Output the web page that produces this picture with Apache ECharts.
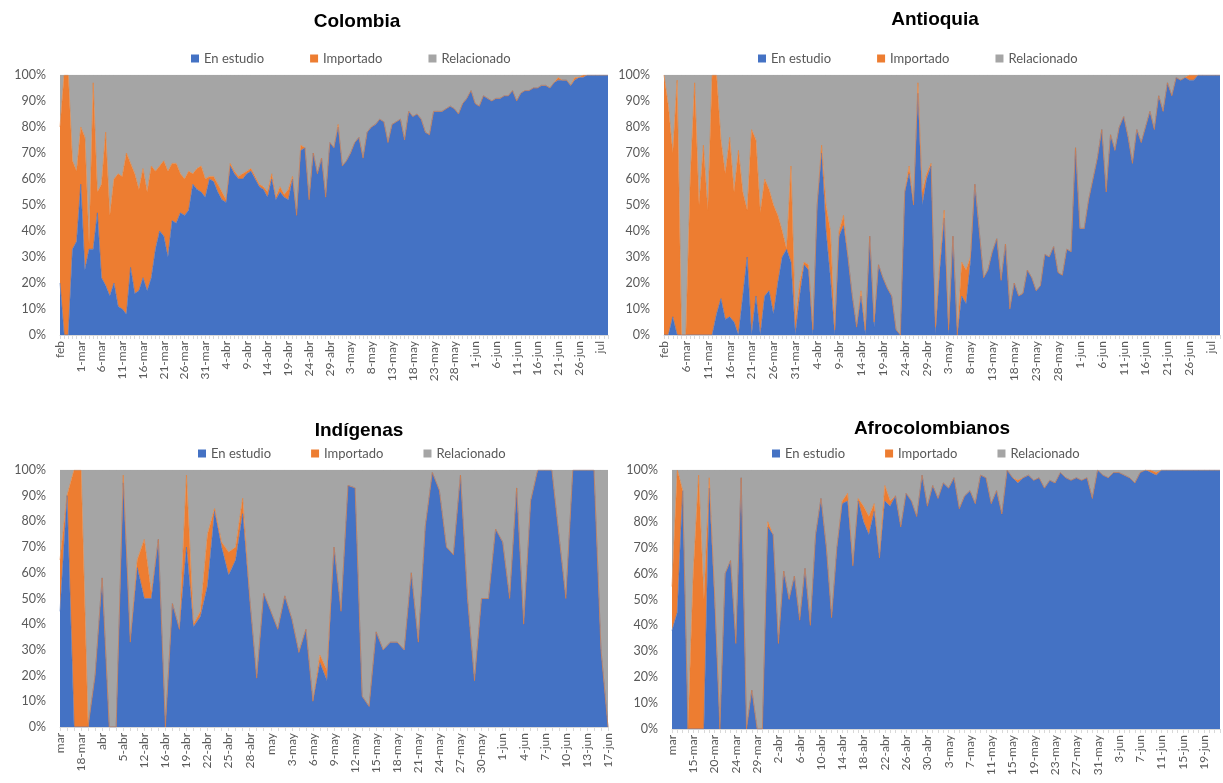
<!DOCTYPE html>
<html>
<head>
<meta charset="utf-8">
<script src="https://cdn.jsdelivr.net/npm/echarts@6/dist/echarts.min.js"></script>
<style>html,body{margin:0;padding:0;background:#fff}#c{width:1223px;height:783px}</style>
</head>
<body>
<div id="c"></div>
<script>
const seriesNames = ['En estudio', 'Importado', 'Relacionado'];
const panelTitles = ['Colombia', 'Antioquia', 'Indígenas', 'Afrocolombianos'];

// ---- Colombia ----
const colTicks = ['feb','1-mar','6-mar','11-mar','16-mar','21-mar','26-mar','31-mar','4-abr','9-abr','14-abr','19-abr','24-abr','29-abr','3-may','8-may','13-may','18-may','23-may','28-may','1-jun','6-jun','11-jun','16-jun','21-jun','26-jun','jul'];
const colEnEstudio = [20,0,0,33,36,58,25,33,33,47,
 22,19,15,20,11,10,8,26,16,17,
 22,17,22,33,40,38,30,44,43,47,
 46,48,58,56,55,53,60,59,55,52,
 51,65,62,60,60,62,63,60,57,56,
 53,60,52,55,53,52,60,46,71,72,
 52,70,62,68,53,74,72,80,65,67,
 70,74,76,68,78,80,81,83,82,74,
 81,82,83,75,86,84,85,83,78,77,
 86,86,86,87,88,87,85,89,91,94,
 89,88,92,91,90,91,91,92,92,94,
 90,93,94,94,95,95,96,96,95,97,
 98,98,98,96,98,99,99,100,100,100,
 100,100,100];
const colImportado = [60,100,100,34,27,22,51,2,64,8,
 36,59,31,40,51,51,62,40,46,39,
 42,38,43,30,25,29,33,22,23,15,
 14,15,4,8,10,7,1,2,3,3,
 1,1,1,1,2,1,1,1,1,1,
 2,2,1,2,1,4,1,0,2,0,
 0,0,0,0,0,0,0,1,0,0,
 0,0,0,0,0,0,0,0,0,0,
 0,0,0,0,0,0,0,0,0,0,
 0,0,0,0,0,0,0,0,0,0,
 0,0,0,0,0,0,0,0,0,0,
 0,0,0,0,0,0,0,0,0,0,
 1,0,0,0,1,0,1,0,0,0,
 0,0,0];

// ---- Antioquia ----
const antTicks = ['feb','6-mar','11-mar','16-mar','21-mar','26-mar','31-mar','4-abr','9-abr','14-abr','19-abr','24-abr','29-abr','3-may','8-may','13-may','18-may','23-may','28-may','1-jun','6-jun','11-jun','16-jun','21-jun','26-jun','jul'];
const antEnEstudio = [0,0,7,0,0,0,0,0,0,0,0,0,8,
 14,6,7,5,0,15,30,0,15,0,15,17,8,20,30,33,28,0,15,27,25,0,50,70,40,22,
 0,38,42,30,15,3,15,0,38,3,27,22,18,15,2,0,55,62,50,93,50,60,65,0,25,
 45,0,38,0,15,12,28,58,40,22,25,32,37,21,35,10,20,15,16,25,22,17,19,31,30,
 34,24,23,33,32,72,41,41,52,60,68,79,55,77,71,80,84,76,66,79,74,80,86,79,92,86,
 97,92,99,98,99,98,98,100,100,100,100,100,100];
const antImportado = [100,88,63,98,0,0,60,97,50,73,48,100,92,
 61,56,69,50,71,40,18,79,60,47,45,39,42,26,10,0,37,5,5,1,2,2,0,3,10,18,
 2,2,4,0,0,0,2,2,0,2,0,0,0,0,0,0,0,3,0,4,5,2,1,3,3,
 3,2,0,0,13,13,2,0,0,0,0,0,0,0,0,0,0,0,0,0,0,0,0,0,0,
 0,0,0,0,0,0,0,0,0,0,0,0,0,0,0,0,0,0,0,0,0,0,0,0,0,0,
 0,0,0,0,0,2,2,0,0,0,0,0,0];

// ---- Indígenas ----
const indTicks = ['mar','18-mar','abr','5-abr','12-abr','16-abr','19-abr','22-abr','25-abr','28-abr','may','3-may','6-may','9-may','12-may','15-may','18-may','21-may','24-may','27-may','30-may','1-jun','4-jun','7-jun','10-jun','13-jun','17-jun'];
const indEnEstudio = [45,90,0,0,0,20,58,0,0,95,
 33,62,50,50,73,0,48,38,70,39,
 43,55,84,70,59,65,83,50,19,52,
 45,38,51,42,29,38,10,25,18,70,
 45,94,93,12,8,37,30,33,33,30,
 60,33,78,99,92,70,67,98,50,18,
 50,50,77,72,50,93,40,88,100,100,
 100,75,50,100,100,100,100,30,0];
const indImportado = [20,0,100,100,0,0,0,0,0,3,
 0,3,23,2,0,0,0,0,28,1,
 2,20,1,2,9,5,6,0,0,0,
 0,0,0,0,0,0,0,3,4,0,
 0,0,0,0,0,0,0,0,0,0,
 0,0,0,0,0,0,0,0,0,0,
 0,0,0,0,0,0,0,0,0,0,
 0,0,0,0,0,0,0,0,0];

// ---- Afrocolombianos ----
const afroTicks = ['mar','15-mar','20-mar','24-mar','29-mar','2-abr','6-abr','10-abr','14-abr','18-abr','22-abr','26-abr','30-abr','3-may','7-may','11-may','15-may','19-may','23-may','27-may','31-may','3-jun','7-jun','11-jun','15-jun','19-jun'];
const afroEnEstudio = [38,45,92,0,0,0,0,93,50,0,
 60,65,33,97,0,15,0,0,78,75,
 33,61,50,59,42,62,40,75,89,70,
 43,70,87,88,63,88,80,75,84,66,
 88,86,90,78,91,88,82,98,86,94,
 89,95,93,97,85,90,92,87,98,97,
 87,92,83,100,97,95,97,98,96,97,
 93,96,95,99,97,96,97,96,97,89,
 100,98,97,99,99,98,97,95,99,100,
 99,98,100,100,100,100,100,100,100,100,
 100,100,100,100];
const afroImportado = [17,55,0,0,60,98,50,4,2,0,
 0,0,0,0,0,0,0,0,2,0,
 0,0,0,0,0,0,0,0,0,0,
 0,0,1,3,0,1,6,7,3,0,
 6,2,0,0,0,0,0,0,0,0,
 0,0,0,0,0,0,0,0,0,0,
 0,0,0,0,0,1,0,0,0,0,
 0,0,0,0,0,0,0,0,0,0,
 0,0,0,0,0,0,0,0,0,0,
 1,1,0,0,0,0,0,0,0,0,
 0,0,0,0];

const panels = [
  {title: panelTitles[0], ticks: colTicks, step: 5, b: colEnEstudio, o: colImportado},
  {title: panelTitles[1], ticks: antTicks, step: 5, b: antEnEstudio, o: antImportado},
  {title: panelTitles[2], ticks: indTicks, step: 3, b: indEnEstudio, o: indImportado},
  {title: panelTitles[3], ticks: afroTicks, step: 4, b: afroEnEstudio, o: afroImportado}
];

// layout
const grids = [
  {left: 60, top: 75, width: 548, height: 260},
  {left: 664, top: 75, width: 556, height: 260},
  {left: 60, top: 470, width: 548, height: 257},
  {left: 672, top: 470, width: 548, height: 259}
];
const titlePos = [[352, 7], [930, 5], [354, 416], [927, 414]];
const legendPos = [[186, 47], [753, 47], [193, 442], [767, 442]];
const colors = ['#4472C4', '#ED7D31', '#A5A5A5'];
const txt = '#595959';
const font = 'Lato, "Noto Sans", sans-serif';

const option = {
  animation: false,
  backgroundColor: '#fff',
  color: colors,
  title: panels.map((p, k) => ({
    text: p.title, left: titlePos[k][0], top: titlePos[k][1], textAlign: 'center',
    textStyle: {fontSize: 19, fontWeight: 'bold', color: '#000', fontFamily: '"Liberation Sans", Arial, sans-serif'}
  })),
  legend: panels.map((p, k) => ({
    data: seriesNames, left: legendPos[k][0], top: legendPos[k][1],
    icon: 'rect', itemWidth: 8, itemHeight: 8, itemGap: k < 2 ? 46 : 40,
    textStyle: {color: txt, fontSize: 13, fontFamily: font}
  })),
  grid: grids.map(g => Object.assign({containLabel: false}, g)),
  xAxis: panels.map((p, k) => {
    const cats = [];
    for (let i = 0; i < p.b.length; i++) {
      cats.push(i % p.step === 0 && p.ticks[i / p.step] !== undefined ? p.ticks[i / p.step] : '\u200b' + i);
    }
    return {
      type: 'category', gridIndex: k, data: cats, boundaryGap: false,
      axisLine: {show: true, lineStyle: {color: '#D9D9D9'}},
      axisTick: {show: true, interval: 0, length: 4, lineStyle: {color: '#D9D9D9'}},
      axisLabel: {interval: p.step - 1, rotate: 90, color: txt, fontSize: 12, fontFamily: font, margin: 6},
      splitLine: {show: false}
    };
  }),
  yAxis: panels.map((p, k) => ({
    type: 'value', gridIndex: k, min: 0, max: 100, interval: 10,
    axisLabel: {formatter: '{value}%', color: txt, fontSize: 12.5, fontFamily: font, margin: 14},
    axisLine: {show: false}, axisTick: {show: false}, splitLine: {show: false}
  })),
  series: []
};

panels.forEach((p, k) => {
  const rel = p.b.map((v, i) => Math.max(0, 100 - v - p.o[i]));
  [p.b, p.o, rel].forEach((d, s) => {
    option.series.push({
      name: seriesNames[s], type: 'line', xAxisIndex: k, yAxisIndex: k,
      stack: 'p' + k, data: d, symbol: 'none', smooth: false,
      itemStyle: {color: colors[s]},
      lineStyle: {width: 0.6, color: colors[s]},
      areaStyle: {color: colors[s], opacity: 1},
      emphasis: {disabled: true}
    });
  });
});

const chart = echarts.init(document.getElementById('c'), null, {renderer: 'canvas'});
chart.setOption(option);
</script>
</body>
</html>
